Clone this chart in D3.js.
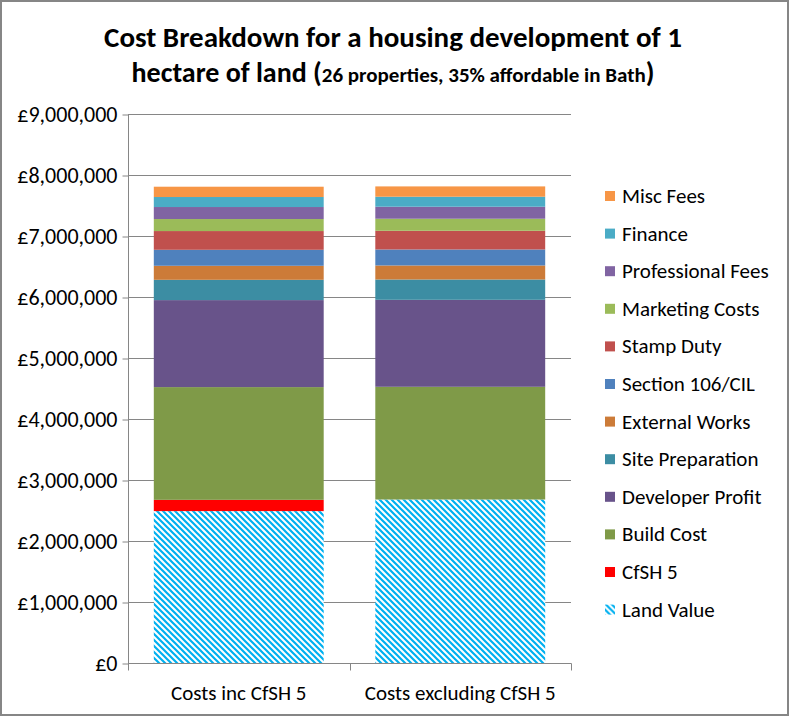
<!DOCTYPE html>
<html>
<head>
<meta charset="utf-8">
<script src="https://cdn.jsdelivr.net/npm/d3@7"></script>
<style>
  body { margin: 0; background: #fff; }
  svg { display: block; font-family: Calibri, Carlito, Lato, sans-serif; }
</style>
</head>
<body>
<svg id="chart" width="790" height="717"></svg>
<script>
// categories on the x axis
const categories = ['Costs inc CfSH 5', 'Costs excluding CfSH 5'];

// series, bottom of the stack first
const seriesNames = ['Land Value', 'CfSH 5', 'Build Cost', 'Developer Profit', 'Site Preparation',
  'External Works', 'Section 106/CIL', 'Stamp Duty', 'Marketing Costs', 'Professional Fees',
  'Finance', 'Misc Fees'];

const landValue       = [2490000, 2680000];
const cfsh5           = [185000, 0];
const buildCost       = [1848000, 1848000];
const developerProfit = [1426000, 1426000];
const sitePreparation = [333000, 333000];
const externalWorks   = [230000, 230000];
const section106      = [262000, 262000];
const stampDuty       = [307000, 307000];
const marketingCosts  = [197000, 197000];
const professionalFees = [197000, 197000];
const finance         = [164000, 164000];
const miscFees        = [169000, 169000];

const yTicks = [0, 1000000, 2000000, 3000000, 4000000, 5000000, 6000000, 7000000, 8000000, 9000000];

const seriesValues = [landValue, cfsh5, buildCost, developerProfit, sitePreparation, externalWorks,
  section106, stampDuty, marketingCosts, professionalFees, finance, miscFees];

const colors = ['url(#hatch)', '#FF0000', '#7F9A48', '#68538A', '#3C8DA3', '#CC7B38',
  '#4F81BD', '#C0504D', '#9BBB59', '#8064A2', '#4BACC6', '#F79646'];

const width = 790, height = 717;
const plot = { left: 128, right: 571, top: 114, bottom: 663 };
const gridColor = '#868686';

const svg = d3.select('#chart');

// hatch for land value
const defs = svg.append('defs');
const hatch = defs.append('pattern')
  .attr('id', 'hatch')
  .attr('patternUnits', 'userSpaceOnUse')
  .attr('width', 6).attr('height', 6);
hatch.append('rect').attr('width', 6).attr('height', 6).attr('fill', '#fff');
hatch.append('path')
  .attr('d', 'M-1,-1 L7,7 M-4,2 L1,7 M2,-4 L7,1')
  .attr('stroke', '#00B0F0')
  .attr('stroke-width', 2.2);

// outer border
svg.append('rect')
  .attr('x', 1).attr('y', 1)
  .attr('width', width - 3).attr('height', height - 3)
  .attr('fill', '#fff')
  .attr('stroke', gridColor)
  .attr('stroke-width', 2);

// title
const title = svg.append('text')
  .attr('text-anchor', 'middle')
  .attr('font-weight', 'bold')
  .attr('fill', '#000');
title.append('tspan').attr('x', 393).attr('y', 47).attr('font-size', 29)
  .text('Cost Breakdown for a housing development of 1');
const line2 = title.append('tspan').attr('x', 393).attr('y', 82);
line2.append('tspan').attr('font-size', 28).text('hectare of land (');
line2.append('tspan').attr('font-size', 21).text('26 properties, 35% affordable in Bath');
line2.append('tspan').attr('font-size', 28).text(')');

const x = d3.scaleBand()
  .domain(categories)
  .range([plot.left, plot.right])
  .paddingInner(0.233)
  .paddingOuter(0.1165);

const y = d3.scaleLinear()
  .domain([0, 9000000])
  .range([plot.bottom, plot.top]);

// gridlines
svg.append('g')
  .selectAll('line')
  .data(yTicks.slice(1))
  .enter()
  .append('line')
  .attr('x1', plot.left).attr('x2', plot.right)
  .attr('y1', d => Math.round(y(d)) + 0.5)
  .attr('y2', d => Math.round(y(d)) + 0.5)
  .attr('stroke', gridColor);

// stacked bars
const table = categories.map((c, i) => {
  const row = { category: c };
  seriesNames.forEach((s, j) => { row[s] = seriesValues[j][i]; });
  return row;
});
const stacked = d3.stack().keys(seriesNames)(table);

svg.append('g')
  .selectAll('g')
  .data(stacked)
  .enter()
  .append('g')
  .attr('fill', (d, i) => colors[i])
  .selectAll('rect')
  .data(d => d)
  .enter()
  .append('rect')
  .attr('x', d => x(d.data.category))
  .attr('width', x.bandwidth())
  .attr('y', d => y(d[1]))
  .attr('height', d => y(d[0]) - y(d[1]));

// y axis
const yAxis = d3.axisLeft(y)
  .tickValues(yTicks)
  .tickSize(6)
  .tickPadding(5)
  .tickFormat(d => '£' + d3.format(',')(d));

const yG = svg.append('g')
  .attr('transform', `translate(${plot.left + 0.5},0.5)`)
  .call(yAxis);
yG.select('.domain').attr('stroke', gridColor).attr('d', `M0,${plot.top}V${plot.bottom}`);
yG.selectAll('.tick line').attr('stroke', gridColor);
yG.selectAll('.tick text')
  .attr('font-size', 22)
  .attr('fill', '#000')
  .attr('font-family', 'Calibri, Carlito, Lato, sans-serif');

// x axis
const xG = svg.append('g')
  .attr('transform', `translate(0,${plot.bottom + 0.5})`);
xG.append('line')
  .attr('x1', plot.left).attr('x2', plot.right + 0.5)
  .attr('stroke', gridColor);
const xEdges = [plot.left, (plot.left + plot.right) / 2, plot.right];
xG.selectAll('.xtick')
  .data(xEdges)
  .enter()
  .append('line')
  .attr('x1', d => Math.round(d) + 0.5).attr('x2', d => Math.round(d) + 0.5)
  .attr('y1', 0).attr('y2', 7)
  .attr('stroke', gridColor);
xG.selectAll('.xlabel')
  .data(categories)
  .enter()
  .append('text')
  .attr('x', d => x(d) + x.bandwidth() / 2)
  .attr('y', 36)
  .attr('text-anchor', 'middle')
  .attr('font-size', 21)
  .attr('fill', '#000')
  .text(d => d);

// legend, top entry is the top of the stack
const legendNames = seriesNames.slice().reverse();
const legendColors = colors.slice().reverse();
const legend = svg.append('g')
  .selectAll('g')
  .data(legendNames)
  .enter()
  .append('g')
  .attr('transform', (d, i) => `translate(605,${196 + i * 37.6})`);
legend.append('rect')
  .attr('x', 0).attr('y', -5)
  .attr('width', 10).attr('height', 10)
  .attr('fill', (d, i) => legendColors[i]);
legend.append('text')
  .attr('x', 17)
  .attr('y', 7)
  .attr('font-size', 21)
  .attr('fill', '#000')
  .text(d => d);
</script>
</body>
</html>
